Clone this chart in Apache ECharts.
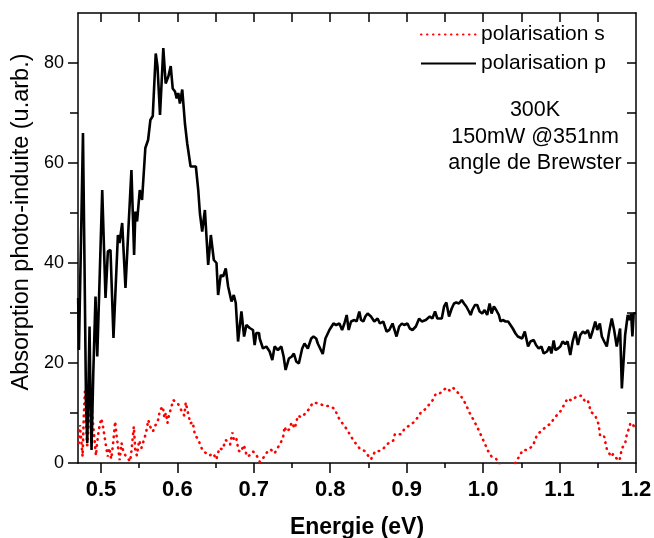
<!DOCTYPE html>
<html>
<head>
<meta charset="utf-8">
<script src="https://cdn.jsdelivr.net/npm/echarts@6/dist/echarts.min.js"></script>
<style>html,body{margin:0;padding:0;background:#fff}#c{width:654px;height:538px}</style>
</head>
<body>
<div id="c"></div>
<script>
// ---- data ----
const seriesNames = ['polarisation s', 'polarisation p'];
const pEnergy = [0.4702,0.4712,0.4740,0.4765,0.4785,0.4805,0.4821,0.4836,0.4851,0.4864,0.4877,0.4900,0.4929,0.4952,0.4985,0.5017,0.5060,0.5091,0.5125,0.5164,0.5222,0.5243,0.5278,0.5321,0.5360,0.5399,0.5434,0.5451,0.5473,0.5508,0.5538,0.5581,0.5617,0.5647,0.5678,0.5717,0.5740,0.5773,0.5816,0.5847,0.5882,0.5913,0.5939,0.5969,0.5991,0.6012,0.6033,0.6064,0.6099,0.6129,0.6173,0.6242,0.6273,0.6295,0.6325,0.6360,0.6403,0.6438,0.6477,0.6512,0.6533,0.6568,0.6599,0.6633,0.6664,0.6686,0.6708,0.6738,0.6764,0.6794,0.6838,0.6873,0.6903,0.6946,0.6968,0.6989,0.7011,0.7033,0.7068,
0.7077,0.7120,0.7164,0.7207,0.7242,0.7272,0.7315,0.7360,0.7390,0.7416,0.7459,0.7498,0.7524,0.7555,0.7589,0.7633,0.7663,0.7707,0.7751,0.7781,0.7816,0.7837,0.7859,0.7902,0.7937,0.7989,0.8042,0.8077,0.8120,0.8155,0.8185,0.8215,0.8241,0.8272,0.8315,0.8345,0.8380,0.8403,0.8433,0.8459,0.8489,0.8533,0.8576,0.8619,0.8650,0.8693,0.8737,0.8772,0.8815,0.8837,0.8867,0.8902,0.8937,0.8967,0.9010,0.9041,0.9076,0.9120,0.9163,0.9198,0.9250,0.9302,0.9336,0.9371,0.9401,
0.9424,0.9459,0.9489,0.9519,0.9554,0.9589,0.9619,0.9649,0.9684,0.9720,0.9750,0.9780,0.9815,0.9837,0.9858,0.9893,0.9923,0.9954,0.9988,1.0019,1.0053,1.0085,1.0111,1.0141,1.0171,1.0206,1.0228,1.0258,1.0293,1.0327,1.0358,1.0388,1.0424,1.0454,1.0479,1.0510,1.0545,1.0567,1.0588,1.0619,1.0662,1.0692,1.0727,1.0762,1.0793,1.0836,1.0867,1.0893,1.0923,1.0945,1.0979,1.1010,1.1040,1.1075,1.1105,1.1140,1.1171,1.1206,1.1240,1.1271,1.1305,1.1336,1.1370,1.1401,1.1431,1.1467,1.1493,1.1527,1.1553,1.1584,1.1618,1.1649,1.1683,1.1714,1.1748,1.1792,1.1815,1.1858,1.1892,1.1914,1.1936,1.1953,1.1970,1.2000];
const pValues = [33.0,22.6,45.0,66.0,40.0,12.0,4.0,15.0,27.3,12.0,2.6,18.0,33.3,21.3,38.0,54.6,33.0,42.3,42.6,25.0,45.6,44.0,48.0,35.0,47.0,58.6,41.6,50.3,48.3,54.6,52.6,63.0,64.6,68.6,69.4,81.9,79.3,69.6,83.0,75.9,77.3,79.4,74.9,74.3,72.9,74.0,71.9,74.7,67.9,63.9,59.3,59.3,54.6,49.9,46.3,50.6,39.6,45.6,40.6,40.0,33.6,37.6,37.3,38.9,35.3,35.0,32.3,33.6,32.0,24.3,30.3,25.3,27.6,27.0,26.6,26.6,23.6,26.0,26.0,
24.9,22.9,23.3,22.3,20.6,23.3,22.6,23.3,21.3,18.6,20.9,21.3,21.9,20.3,19.9,22.9,23.9,22.9,24.9,25.3,24.9,23.9,24.3,21.8,24.9,26.6,27.9,27.6,27.9,26.6,27.9,29.6,26.6,28.3,28.6,28.3,30.3,28.6,28.3,29.3,29.9,29.3,28.3,28.9,27.9,28.3,26.3,26.6,27.9,27.6,25.3,27.3,27.9,27.6,27.9,26.9,26.6,27.3,28.9,28.3,28.6,29.3,28.9,30.3,28.9,
29.3,28.9,31.3,32.1,29.3,30.9,31.9,32.1,31.9,32.6,31.9,31.3,30.3,29.6,30.6,31.6,31.6,30.3,29.9,30.6,29.6,31.9,29.9,31.3,30.6,29.6,28.3,28.6,28.3,28.3,27.6,26.9,25.9,25.3,25.6,24.9,26.3,26.3,23.3,24.3,24.6,23.6,22.9,23.3,21.9,22.3,23.3,21.9,24.5,22.6,22.9,23.3,24.3,23.8,24.3,21.6,24.3,26.3,23.6,25.6,26.3,25.9,26.6,24.9,26.3,28.3,26.6,27.9,25.3,24.3,23.3,26.3,28.9,26.6,23.3,26.9,14.9,25.6,29.6,28.6,29.9,25.3,29.9,30.0];

const sEnergy = [0.4710,0.4725,0.4740,0.4760,0.4775,0.4790,0.4800,0.4810,0.4820,0.4835,0.4855,0.4878,0.4890,0.4905,0.4920,0.4935,0.4950,0.4970,0.5004,0.5025,0.5045,0.5065,0.5090,0.5110,0.5135,0.5160,0.5186,0.5205,0.5225,0.5245,0.5270,0.5290,0.5320,0.5350,0.5382,0.5400,0.5415,0.5430,0.5450,0.5470,0.5500,0.5530,0.5560,0.5590,0.5620,0.5643,0.5680,0.5710,0.5740,0.5773,0.5810,0.5830,0.5850,0.5870,0.5890,0.5910,0.5947,0.6010,0.6050,0.6090,0.6110,0.6130,0.6170,0.6200,0.6230,0.6270,0.6330,0.6380,0.6420,0.6470,0.6510,0.6550,0.6590,0.6633,0.6690,0.6720,0.6740,0.6770,0.6800,0.6830,0.6870,0.6910,0.6940,0.6990,0.7030,0.7080,
0.7129,0.7172,0.7220,0.7272,0.7347,0.7381,0.7403,0.7425,0.7468,0.7494,0.7537,0.7576,0.7620,0.7686,0.7729,0.7772,0.7850,0.7924,0.7989,0.8055,0.8120,0.8215,0.8302,0.8390,0.8450,0.8533,0.8589,0.8641,0.8697,0.8772,0.8824,0.8846,0.8924,0.8976,0.9068,0.9120,0.9193,0.9241,0.9336,0.9380,0.9424,0.9519,0.9563,0.9606,0.9707,0.9772,0.9815,0.9880,0.9945,1.0010,1.0063,1.0111,1.0171,1.0250,1.0350,1.0458,1.0519,1.0575,1.0650,1.0705,1.0750,1.0823,1.0888,1.0932,1.1001,1.1053,1.1105,1.1154,1.1219,1.1284,1.1336,1.1370,1.1409,1.1467,1.1510,1.1532,1.1584,1.1618,1.1675,1.1700,1.1740,1.1784,1.1815,1.1858,1.1879,1.1900,1.1930,1.1966,1.2000];
const sValues = [4.0,7.6,5.0,1.3,9.0,14.3,11.0,6.6,3.0,7.0,10.0,12.3,9.0,6.5,4.0,1.5,4.0,6.5,8.9,7.5,5.5,3.5,1.3,3.0,0.8,4.0,8.3,5.5,3.0,0.6,4.0,2.5,1.5,1.0,0.3,2.5,5.0,7.3,2.5,1.5,4.5,3.0,4.5,6.0,8.6,7.3,6.3,7.5,8.0,10.6,11.3,9.0,10.0,8.0,9.5,10.6,12.6,11.8,10.6,9.5,12.1,10.6,7.9,8.2,5.6,4.8,2.5,1.9,1.5,1.9,0.7,3.0,2.7,4.6,3.7,6.1,4.6,5.0,2.5,2.2,3.6,1.3,1.5,2.3,1.7,0.2,
1.13,2.13,2.73,1.93,3.93,4.93,7.27,6.27,6.8,8.13,6.93,9.47,9.13,10.07,10.93,12.07,11.93,11.4,11.4,10.87,8.73,6.8,4.53,2.8,2.4,0.73,2.4,2.4,2.93,4.13,4.47,5.8,5.73,6.93,7.8,8.6,10.27,10.73,12.47,13.8,13.8,15.07,14.47,15.07,13.47,11.8,10.27,8.47,6.47,4.27,2.47,1.27,0.8,-1.2,-1.8,0.93,2.6,2.6,3.4,5.6,6.27,7.27,7.93,9.07,10.07,11.47,12.93,12.47,13.27,13.47,12.27,12.5,10.27,9.47,7.8,5.27,5.27,2.8,1.27,1.8,1.0,0.47,2.93,3.93,5.6,6.6,8.07,7.5,6.8];

const xMin = 0.47, xMax = 1.2;
const yMin = 0, yMax = 90;
const xMajorTicks = [0.5,0.6,0.7,0.8,0.9,1.0,1.1,1.2];
const xTickLabels = ['0.5','0.6','0.7','0.8','0.9','1.0','1.1','1.2'];
const xMinorTicks = [0.55,0.65,0.75,0.85,0.95,1.05,1.15];
const xTopTicks = [0.5,0.55,0.6,0.65,0.7,0.75,0.8,0.85,0.9,0.95,1.0,1.05,1.1,1.15];
const yMajorTicks = [0,20,40,60,80];
const yTickLabels = ['0','20','40','60','80'];
const yMinorTicks = [10,30,50,70];
const yRightTicks = [10,20,30,40,50,60,70,80];
const xTitle = 'Energie (eV)';
const yTitle = 'Absorption photo-induite (u.arb.)';
const annotation = ['300K', '150mW @351nm', 'angle de Brewster'];

// ---- chart ----
const FONT = '"Liberation Sans", Arial, sans-serif';
const zip = (a, b) => a.map((v, i) => [v, b[i]]);
const axisLine = { show: true, onZero: false, lineStyle: { color: '#000', width: 1.5 } };
const noAxisLine = { show: false };

const chart = echarts.init(document.getElementById('c'), null, { renderer: 'canvas' });
chart.setOption({
  animation: false,
  backgroundColor: '#fff',
  grid: { left: 78, right: 18, top: 13, bottom: 75, containLabel: false, outerBoundsMode: 'none' },
  xAxis: [
    { type: 'value', min: xMin, max: xMax, position: 'bottom',
      axisLine: axisLine,
      axisTick: { show: true, length: 10, inside: false, customValues: xMajorTicks, lineStyle: { color: '#000', width: 1.5 } },
      axisLabel: { show: true, customValues: xMajorTicks, margin: 16,
        formatter: v => xTickLabels[xMajorTicks.findIndex(t => Math.abs(t - v) < 1e-6)] ?? '',
        color: '#000', fontFamily: FONT, fontWeight: 'bold', fontSize: 22 },
      splitLine: { show: false },
      name: xTitle, nameLocation: 'middle', nameGap: 53,
      nameTextStyle: { color: '#000', fontFamily: FONT, fontWeight: 'bold', fontSize: 23 } },
    { type: 'value', min: xMin, max: xMax, position: 'bottom',
      axisLine: noAxisLine,
      axisTick: { show: true, length: 5, inside: false, customValues: xMinorTicks, lineStyle: { color: '#000', width: 1.5 } },
      axisLabel: { show: false }, splitLine: { show: false } },
    { type: 'value', min: xMin, max: xMax, position: 'top',
      axisLine: axisLine,
      axisTick: { show: true, length: 9, inside: true, customValues: xTopTicks, lineStyle: { color: '#000', width: 1.5 } },
      axisLabel: { show: false }, splitLine: { show: false } }
  ],
  yAxis: [
    { type: 'value', min: yMin, max: yMax, position: 'left',
      axisLine: axisLine,
      axisTick: { show: true, length: 10, inside: false, customValues: yMajorTicks, lineStyle: { color: '#000', width: 1.5 } },
      axisLabel: { show: true, customValues: yMajorTicks, margin: 14,
        formatter: v => yTickLabels[yMajorTicks.indexOf(v)] ?? '',
        color: '#000', fontFamily: FONT, fontSize: 18 },
      splitLine: { show: false },
      name: yTitle, nameLocation: 'middle', nameGap: 31, nameRotate: 90,
      nameTextStyle: { color: '#000', fontFamily: FONT, fontSize: 23.5, padding: [0, 0, 0, 32] } },
    { type: 'value', min: yMin, max: yMax, position: 'left',
      axisLine: noAxisLine,
      axisTick: { show: true, length: 8, inside: false, customValues: yMinorTicks, lineStyle: { color: '#000', width: 1.5 } },
      axisLabel: { show: false }, splitLine: { show: false } },
    { type: 'value', min: yMin, max: yMax, position: 'right',
      axisLine: axisLine,
      axisTick: { show: true, length: 9, inside: true, customValues: yRightTicks, lineStyle: { color: '#000', width: 1.5 } },
      axisLabel: { show: false }, splitLine: { show: false } }
  ],
  legend: {
    show: true, orient: 'vertical', left: 420, top: 24, padding: 0,
    itemWidth: 55, itemHeight: 14, itemGap: 8,
    data: seriesNames,
    itemStyle: { opacity: 0, borderWidth: 0 },
    textStyle: { color: '#000', fontFamily: FONT, fontSize: 21 }
  },
  graphic: [{
    type: 'text', left: 535 - 90, top: 97,
    style: { text: annotation.join('\n'), x: 0, y: 0, width: 180, align: 'center',
      textAlign: 'center', fill: '#000', font: '21.5px ' + FONT, lineHeight: 26.5 },
    z: 100
  }],
  series: [
    { name: seriesNames[0], type: 'line', xAxisIndex: 0, yAxisIndex: 0,
      data: zip(sEnergy, sValues), symbol: 'none', clip: true, z: 2,
      lineStyle: { color: '#ff0000', width: 2.6, type: [0.5, 5.5], cap: 'round' },
      itemStyle: { color: '#ff0000' } },
    { name: seriesNames[1], type: 'line', xAxisIndex: 0, yAxisIndex: 0,
      data: zip(pEnergy, pValues), symbol: 'none', clip: true, z: 3,
      lineStyle: { color: '#000', width: 2.6, type: 'solid' },
      itemStyle: { color: '#000' } }
  ]
});
</script>
</body>
</html>
